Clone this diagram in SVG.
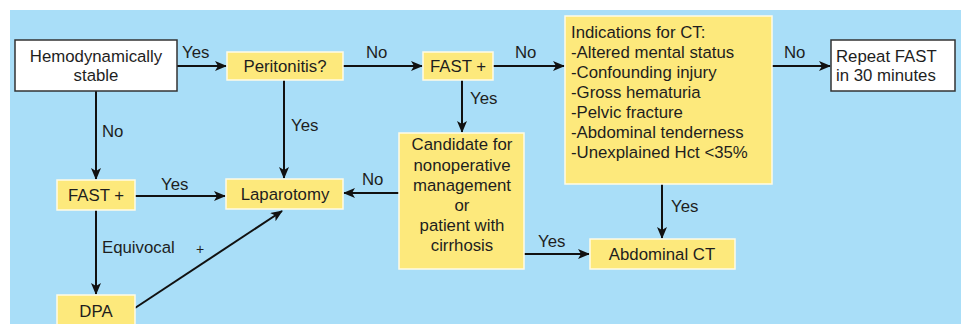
<svg xmlns="http://www.w3.org/2000/svg" width="961" height="324" viewBox="0 0 961 324">
<style>
text{font-family:"Liberation Sans",Arial,sans-serif;font-size:16.8px;fill:#1e1e1e}
.c{text-anchor:middle}
.y{fill:#fde97c;stroke:#fffbe6;stroke-width:1.5}
.w{fill:#fff;stroke:#333;stroke-width:1.5}
.e{stroke:#111;stroke-width:2;fill:none;marker-end:url(#ah)}
</style>
<defs>
<marker id="ah" markerWidth="12" markerHeight="10" refX="11" refY="5" orient="auto" markerUnits="userSpaceOnUse">
<path d="M0,0 L12,5 L0,10 L3,5 Z" fill="#111"/>
</marker>
</defs>
<rect x="0" y="0" width="961" height="324" fill="#fff"/>
<rect x="10" y="10" width="951" height="314" fill="#a9def8"/>
<g id="connectors">
<line class="e" x1="177" y1="66" x2="226" y2="66"/>
<line class="e" x1="343" y1="66" x2="422" y2="66"/>
<line class="e" x1="493" y1="66" x2="564" y2="66"/>
<line class="e" x1="772" y1="66" x2="830" y2="66"/>
<line class="e" x1="96" y1="91" x2="96" y2="179"/>
<line class="e" x1="284" y1="80" x2="284" y2="178"/>
<line class="e" x1="135" y1="196" x2="225" y2="196"/>
<line class="e" x1="96" y1="210" x2="96" y2="294"/>
<line class="e" x1="135" y1="308" x2="282" y2="211"/>
<line class="e" x1="462" y1="80" x2="462" y2="132"/>
<line class="e" x1="399" y1="193" x2="344" y2="193"/>
<line class="e" x1="524" y1="254" x2="589" y2="254"/>
<line class="e" x1="662" y1="184" x2="662" y2="238"/>
<text x="182" y="58">Yes</text>
<text x="366" y="58">No</text>
<text x="515" y="58">No</text>
<text x="784" y="58">No</text>
<text x="102" y="137">No</text>
<text x="291" y="131">Yes</text>
<text x="161" y="190">Yes</text>
<text x="102" y="253">Equivocal</text>
<text x="196" y="254" style="font-size:14px">+</text>
<text x="470" y="104">Yes</text>
<text x="362" y="185">No</text>
<text x="538" y="247">Yes</text>
<text x="671" y="212">Yes</text>
</g>
<g id="hemo">
<rect class="w" x="15" y="40" width="162" height="51"/>
<text class="c" x="96" y="62">Hemodynamically</text>
<text class="c" x="96" y="81">stable</text>
</g>
<g id="peritonitis">
<rect class="y" x="227" y="52" width="116" height="28"/>
<text class="c" x="285" y="72">Peritonitis?</text>
</g>
<g id="fast1">
<rect class="y" x="423" y="52" width="70" height="28"/>
<text class="c" x="458" y="72">FAST +</text>
</g>
<g id="ct-ind">
<rect class="y" x="565" y="16" width="207" height="168"/>
<text x="571" y="38">Indications for CT:</text>
<text x="571" y="58">-Altered mental status</text>
<text x="571" y="78">-Confounding injury</text>
<text x="571" y="98">-Gross hematuria</text>
<text x="571" y="118">-Pelvic fracture</text>
<text x="571" y="138">-Abdominal tenderness</text>
<text x="571" y="158">-Unexplained Hct &lt;35%</text>
</g>
<g id="repeat">
<rect class="w" x="831" y="40" width="124" height="51"/>
<text x="836" y="62">Repeat FAST</text>
<text x="836" y="81">in 30 minutes</text>
</g>
<g id="fast2">
<rect class="y" x="57" y="180" width="78" height="30"/>
<text class="c" x="96" y="201">FAST +</text>
</g>
<g id="laparotomy">
<rect class="y" x="226" y="179" width="117" height="30"/>
<text class="c" x="285" y="200">Laparotomy</text>
</g>
<g id="dpa">
<rect class="y" x="57" y="295" width="78" height="32"/>
<text class="c" x="96" y="317">DPA</text>
</g>
<g id="candidate">
<rect class="y" x="399" y="133" width="125" height="136"/>
<text class="c" x="462" y="150">Candidate for</text>
<text class="c" x="462" y="171">nonoperative</text>
<text class="c" x="462" y="191">management</text>
<text class="c" x="462" y="211">or</text>
<text class="c" x="462" y="231">patient with</text>
<text class="c" x="462" y="251">cirrhosis</text>
</g>
<g id="abdct">
<rect class="y" x="590" y="239" width="145" height="30"/>
<text class="c" x="662" y="260">Abdominal CT</text>
</g>
</svg>
